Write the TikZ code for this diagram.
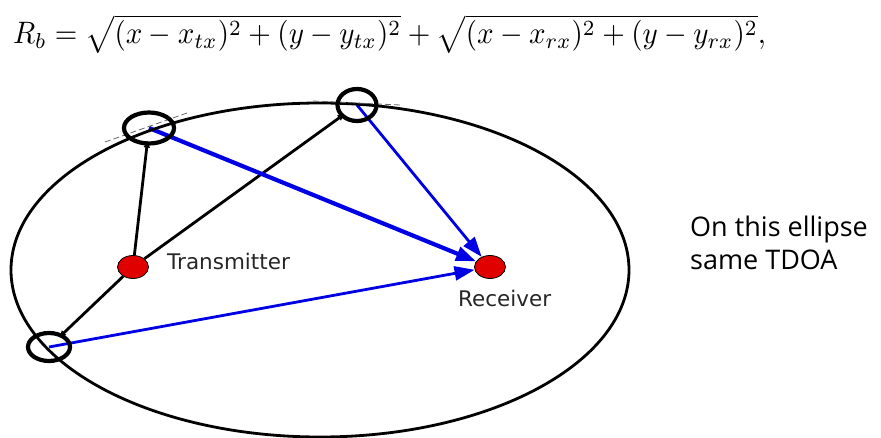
\documentclass[tikz,border=0pt]{standalone}
\usepackage{amsmath}
\usepackage{graphicx}
\usepackage{fontspec}
\newfontfamily\labelfont{DejaVu Sans}
\newfontfamily\notefont{Open Sans}
\usetikzlibrary{arrows.meta,shapes.geometric,backgrounds}
\tikzset{
  px/.style={x={(1pt,0pt)}, y={(0pt,-1pt)}},
  locus/.style={black, line width=2.8pt},
  txline/.style={black, line width=2.8pt, -{Latex[length=7pt,width=7pt]}, shorten >=-5pt},
  rxarrow/.style={blue!90!black, line width=2.8pt, -{Triangle[length=20pt,width=14pt]}},
  rxthick/.style={rxarrow, line width=4.2pt},
  station/.style={ellipse, draw=black, line width=0.8pt, fill=red!88!black,
                  minimum width=31pt, minimum height=23pt, inner sep=0pt},
  refpt/.style={ellipse, draw=black, line width=4.2pt,
                minimum width=42pt, minimum height=28pt, inner sep=0pt},
  tandash/.style={black!60, line width=0.8pt, dash pattern=on 6pt off 3pt},
  tag/.style={font=\labelfont\fontsize{21.5}{25}\selectfont, text=black!85, inner sep=0pt},
  note/.style={font=\notefont\fontsize{27}{33}\selectfont, inner sep=0pt},
}
\begin{document}
\begin{tikzpicture}[px]
  \useasboundingbox (0,0) rectangle (881,438);

  % --- bistatic range formula ---
  \node[anchor=base west, inner sep=0pt] (rb) at (13,44)
    {\scalebox{2.9}[3.1]{$R_b = \sqrt{(x-x_{tx})^2+(y-y_{tx})^2}+\sqrt{(x-x_{rx})^2+(y-y_{rx})^2},$}};

  % --- ellipse of constant range sum ---
  \draw[locus] (320,270) ellipse [x radius=309, y radius=167];
  \draw[tandash] (105,142) -- (187,113);   % tangent at A
  \draw[tandash] (313,101) -- (400,105);   % tangent at B

  % --- transmitter and receiver ---
  \node[station] (tx) at (133,267) {};
  \node[station] (rx) at (490,267) {};
  \node[tag, anchor=base west] (txlabel) at (167,270) {Transmitter};
  \node[tag, anchor=base west] (rxlabel) at (458,307) {Receiver};

  % --- points on the ellipse ---
  \node[refpt, minimum width=50pt, minimum height=31pt] (refA) at (149,128) {};
  \node[refpt, minimum width=39pt, minimum height=32pt] (refB) at (357,105) {};
  \node[refpt] (refC) at (49,347) {};

  % --- paths tx -> point -> rx ---
  \begin{scope}[on background layer]
    \draw[txline] (tx) -- (refA);
    \draw[txline] (tx) -- (refB);
    \draw[txline] (tx) -- (refC);
    \draw[rxthick] (refA.center) -- (rx);
    \draw[rxarrow] (refB.center) -- (rx);
    \draw[rxarrow] (refC.center) -- (rx);
  \end{scope}

  % --- note ---
  \node[note, anchor=base west] (ellnote) at (690,237) {On this ellipse};
  \node[note, anchor=base west] (tdoanote) at (690,270) {same TDOA};
\end{tikzpicture}
\end{document}
